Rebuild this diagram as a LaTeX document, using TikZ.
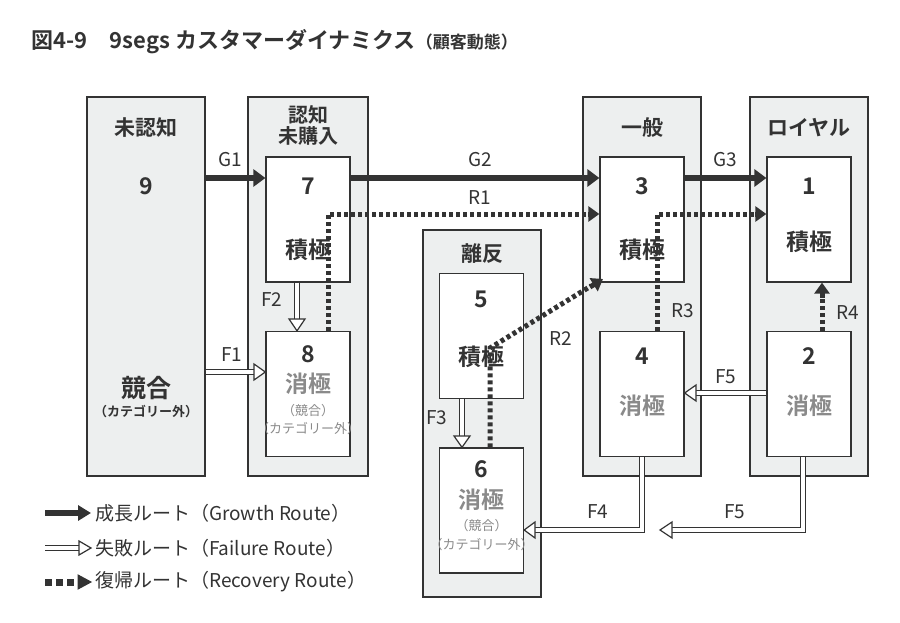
\documentclass[tikz,border=0pt]{standalone}
\usepackage{fontspec}
\setmainfont{Noto Sans CJK JP}[BoldFont={Noto Sans CJK JP Bold}]
\usetikzlibrary{arrows.meta,calc}
\definecolor{dk}{HTML}{333333}
\definecolor{pn}{HTML}{EDEFEF}
\definecolor{gt}{HTML}{8A8A8A}
\begin{document}
\begin{tikzpicture}[x=1pt,y=-1pt,
 panel/.style={draw=dk,line width=1.3pt,fill=pn,inner sep=0},
 box/.style={draw=dk,line width=1.3pt,fill=white,minimum width=84pt,minimum height=125pt,inner sep=0},
 lab/.style={font=\fontsize{19}{19}\selectfont,text=dk,inner sep=1pt},
 big/.style={font=\fontsize{23}{23}\selectfont\bfseries,text=dk,inner sep=1pt},
 sm/.style={font=\fontsize{13}{14}\selectfont,text=gt,inner sep=1pt},
 growth/.style={draw=dk,line width=6pt,-{Triangle[length=12pt,width=17pt]}},
 rec/.style={draw=dk,line width=5pt,dash pattern=on 4pt off 3pt},
 rtip/.style={-{Triangle[length=11pt,width=15pt]}},
 fshaft/.style={draw=dk,line width=1.2pt,double=white,double distance=4pt},
 fhead/.style={draw=dk,line width=1.2pt,fill=white,line join=miter}]
\useasboundingbox (0,0) rectangle (900,623);
\node[anchor=west,font=\fontsize{22}{22}\selectfont\bfseries,text=dk] (title) at (28,42) {図4-9\hspace{1em}9segs カスタマーダイナミクス{\fontsize{17}{17}\selectfont（顧客動態）}};
% panels
\node[panel,minimum width=118pt,minimum height=379pt] (p9) at (146,286.5) {};
\node[panel,minimum width=120pt,minimum height=379pt] (p78) at (308,286.5) {};
\node[panel,minimum width=118pt,minimum height=367pt] (p56) at (482,413.5) {};
\node[panel,minimum width=118pt,minimum height=379pt] (p34) at (642,286.5) {};
\node[panel,minimum width=118pt,minimum height=379pt] (p12) at (809,286.5) {};
\node[big,font=\fontsize{21}{21}\selectfont\bfseries] (t9) at (146,128) {未認知};
\node[big,align=center,font=\fontsize{20}{21}\selectfont\bfseries] (t78) at (308,125) {認知\\未購入};
\node[big,font=\fontsize{21}{21}\selectfont\bfseries] (t56) at (482,254) {離反};
\node[big,font=\fontsize{21}{21}\selectfont\bfseries] (t34) at (642,128) {一般};
\node[big,font=\fontsize{21}{21}\selectfont\bfseries] (t12) at (809,128) {ロイヤル};
\node[big] (s9) at (146,186) {9};
\node[big,font=\fontsize{25}{25}\selectfont\bfseries] (c9) at (146,388) {競合};
\node[font=\fontsize{13}{14}\selectfont\bfseries,text=dk] (c9b) at (146,412) {（カテゴリー外）};
% boxes
\node[box] (n7) at (308,219.5) {};
\node[box] (n8) at (308,394) {};
\node[box] (n5) at (481.5,336) {};
\node[box] (n6) at (481.5,510.5) {};
\node[box] (n3) at (642,219.5) {};
\node[box] (n4) at (642,394) {};
\node[box] (n1) at (809,219.5) {};
\node[box] (n2) at (809,394) {};
% recovery (under texts)
\draw[rec] (n8.north -| 328,0) -- (328,214) -- ($(n3.west |- 0,214)+(-11,0)$);
\draw[draw=dk,line width=5pt,rtip] ($(n3.west |- 0,214)+(-11,0)$) -- (n3.west |- 0,214);
\draw[rec] (n4.north -| 657,0) -- (657,214) -- ($(n1.west |- 0,214)+(-11,0)$);
\draw[draw=dk,line width=5pt,rtip] ($(n1.west |- 0,214)+(-11,0)$) -- (n1.west |- 0,214);
\draw[rec] (n6.north -| 490,0) -- (490,348) -- (591,286);
\draw[draw=dk,line width=5pt,rtip] (590,287) -- (603,279);
\draw[rec] (n2.north -| 822,0) -- (822,297);
\draw[draw=dk,line width=5pt,rtip] (822,298) -- (n1.south -| 822,0);
% box texts
\node[big] at (308,186) {7}; \node[big] at (308,250) {積極};
\node[big] at (308,354) {8}; \node[big,text=gt] at (308,384) {消極};
\node[sm] at (308,411) {（競合）}; \node[sm] at (308,429) {（カテゴリー外）};
\node[big] at (481.5,299) {5}; \node[big] at (481.5,357) {積極};
\node[big] at (481.5,469) {6}; \node[big,text=gt] at (481.5,500) {消極};
\node[sm] at (481.5,526) {（競合）}; \node[sm] at (481.5,545) {（カテゴリー外）};
\node[big] at (642,186) {3}; \node[big] at (642,250) {積極};
\node[big] at (642,356) {4}; \node[big,text=gt] at (642,406) {消極};
\node[big] at (809,186) {1}; \node[big] at (809,242) {積極};
\node[big] at (809,356) {2}; \node[big,text=gt] at (809,406) {消極};
% growth
\draw[growth] (p9.east |- 0,178) -- (n7.west |- 0,178);
\draw[growth] (n7.east |- 0,178) -- (n3.west |- 0,178);
\draw[growth] (n3.east |- 0,178) -- (n1.west |- 0,178);
\node[lab] at (230,160) {G1}; \node[lab] at (480,160) {G2}; \node[lab] at (725,160) {G3};
\node[lab] at (480,198) {R1}; \node[lab] at (561,339) {R2};
\node[lab] at (683,311) {R3}; \node[lab] at (848,313) {R4};
% failure
\draw[fshaft] (n7.south -| 297,0) -- (297,320);
\draw[fhead] (289,319) -- (n8.north -| 297,0) -- (305,319) -- cycle;
\draw[fshaft] (n5.south -| 462,0) -- (462,437);
\draw[fhead] (454,436) -- (n6.north -| 462,0) -- (470,436) -- cycle;
\draw[fshaft] (p9.east |- 0,372) -- (255,372);
\draw[fhead] (254,364) -- (n8.west |- 0,372) -- (254,380) -- cycle;
\draw[fshaft] (n2.west |- 0,393) -- (695,393);
\draw[fhead] (696,385) -- (n4.east |- 0,393) -- (696,401) -- cycle;
\draw[fshaft] (n4.south -| 642,0) -- (642,530) -- (534,530);
\draw[fhead] (535,522) -- (n6.east |- 0,530) -- (535,538) -- cycle;
\coordinate (f5end) at (660,530);
\draw[fshaft] (n2.south -| 803,0) -- (803,530) -- (671,530);
\draw[fhead] (672,522) -- (f5end) -- (672,538) -- cycle;
\node[lab] at (272,300) {F2}; \node[lab] at (232,355) {F1};
\node[lab] at (437,418) {F3}; \node[lab] at (726,377) {F5};
\node[lab] at (598,512) {F4}; \node[lab] at (735,512) {F5};
% legend
\coordinate (l1a) at (45,513); \coordinate (l1b) at (91,513);
\coordinate (l2a) at (45,548); \coordinate (l2b) at (91,548);
\coordinate (l3a) at (45,582); \coordinate (l3b) at (91,582);
\draw[draw=dk,line width=6pt,-{Triangle[length=13pt,width=15pt]}] (l1a) -- (l1b);
\draw[fshaft] (l2a) -- (80,548);
\draw[fhead] (79,541) -- (l2b) -- (79,555) -- cycle;
\draw[draw=dk,line width=7pt,dash pattern=on 7pt off 4pt] (l3a) -- (l3a -| 78,0);
\draw[draw=dk,line width=1pt,fill=dk] (78,575) -- (l3b) -- (78,589) -- cycle;
\node[lab,anchor=west,font=\fontsize{19}{19}\selectfont] at (94,513) {成長ルート（Growth Route）};
\node[lab,anchor=west,font=\fontsize{19}{19}\selectfont] at (94,548) {失敗ルート（Failure Route）};
\node[lab,anchor=west,font=\fontsize{19}{19}\selectfont] at (94,582) {復帰ルート（Recovery Route）};
\end{tikzpicture}
\end{document}
